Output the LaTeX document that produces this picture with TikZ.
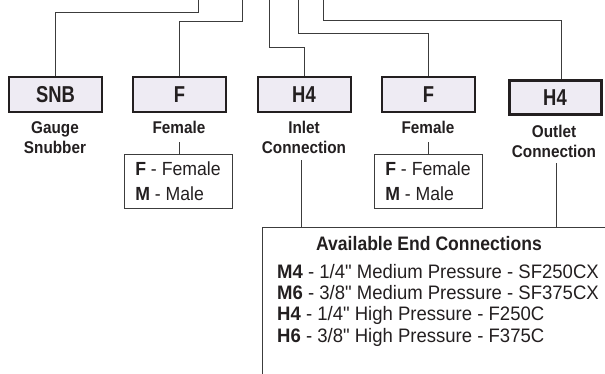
\documentclass[tikz,border=0pt]{standalone}
\usepackage{fontspec}
\setmainfont{Liberation Sans}
\newfontfamily\boxfam[FakeStretch=0.8]{Liberation Sans}
\newfontfamily\labfam[FakeStretch=0.9]{Liberation Sans}
\newfontfamily\txtfam[FakeStretch=0.93]{Liberation Sans}
\newfontfamily\endfam[FakeStretch=0.95]{Liberation Sans}
\definecolor{boxfill}{RGB}{238,235,243}
\definecolor{ink}{RGB}{35,31,32}
\definecolor{wirec}{RGB}{60,60,60}
\begin{document}
\begin{tikzpicture}[x=1pt,y=-1pt,
  codebox/.style={draw=ink, line width=2pt, fill=boxfill, minimum width=93pt, minimum height=35pt, inner sep=0pt, font=\boxfam\bfseries\fontsize{23}{27}\selectfont, text=ink},
  lab/.style={align=center, inner sep=0pt, font=\labfam\bfseries\fontsize{17}{19.5}\selectfont, text=ink, anchor=base},
  optbox/.style={draw=wirec, line width=1pt, minimum width=108pt, minimum height=54pt, align=left, inner sep=0pt, font=\txtfam\fontsize{19}{25}\selectfont, text=ink},
  conn/.style={draw=wirec, line width=1pt},
  endline/.style={anchor=base west, inner sep=0pt, font=\endfam\fontsize{19.5}{21}\selectfont, text=ink},
  titlefont/.style={anchor=base, inner sep=0pt, font=\labfam\bfseries\fontsize{19.5}{23}\selectfont, text=ink}
]
\useasboundingbox (0,0) rectangle (605,373);
% code boxes
\node[codebox] (b1) at (55.5,94.5) {SNB};
\node[codebox] (b2) at (179.5,94.5) {F};
\node[codebox] (b3) at (304,94.5) {H4};
\node[codebox] (b4) at (428.5,94.5) {F};
\node[codebox, line width=3pt, minimum width=92pt, minimum height=34pt] (b5) at (555,97.5) {H4};
% top connectors
\coordinate (t1) at (198,0);
\coordinate (t2) at (242,0);
\coordinate (t3) at (269,0);
\coordinate (t4) at (298,0);
\coordinate (t5) at (323,0);
\draw[conn] (t1) -- ++(0,12) -| (b1.north);
\draw[conn] (t2) -- ++(0,21) -| (b2.north);
\draw[conn] (t3) -- ++(0,47) -| (b3.north);
\draw[conn] (t4) -- ++(0,33) -| (b4.north);
\draw[conn] (t5) -- ++(0,20) -| ([xshift=6pt]b5.north);
% labels (anchor=base is the last line's baseline)
\node[lab] (l1) at (55,153) {Gauge\\Snubber};
\node[lab] (l2) at (179,133) {Female};
\node[lab] (l3) at (304,153) {Inlet\\Connection};
\node[lab] (l4) at (428,133) {Female};
\node[lab] (l5) at (554,157) {Outlet\\Connection};
% option boxes
\node[optbox] (o1) at (178,181) {\textbf{F} - Female\\\textbf{M} - Male};
\node[optbox] (o2) at (428,181) {\textbf{F} - Female\\\textbf{M} - Male};
\coordinate (s2) at (179,142);
\coordinate (s4) at (428,142);
\draw[conn] (s2) -- (s2 |- o1.north);
\draw[conn] (s4) -- (s4 |- o2.north);
% end connections box
\node[draw=wirec, line width=1pt, minimum width=360pt, minimum height=170pt, anchor=north west, inner sep=0pt] (ends) at (262,227) {};
\coordinate (c3) at (301,160);
\coordinate (c5) at (556,163);
\draw[conn] (c3) -- (c3 |- ends.north);
\draw[conn] (c5) -- (c5 |- ends.north);
\node[titlefont] (title) at (429,250) {Available End Connections};
\node[endline] (e1) at (277,278) {\textbf{M4} - 1/4" Medium Pressure - SF250CX};
\node[endline] (e2) at (277,299) {\textbf{M6} - 3/8" Medium Pressure - SF375CX};
\node[endline] (e3) at (277,320) {\textbf{H4} - 1/4" High Pressure - F250C};
\node[endline] (e4) at (277,342) {\textbf{H6} - 3/8" High Pressure - F375C};
\end{tikzpicture}
\end{document}
